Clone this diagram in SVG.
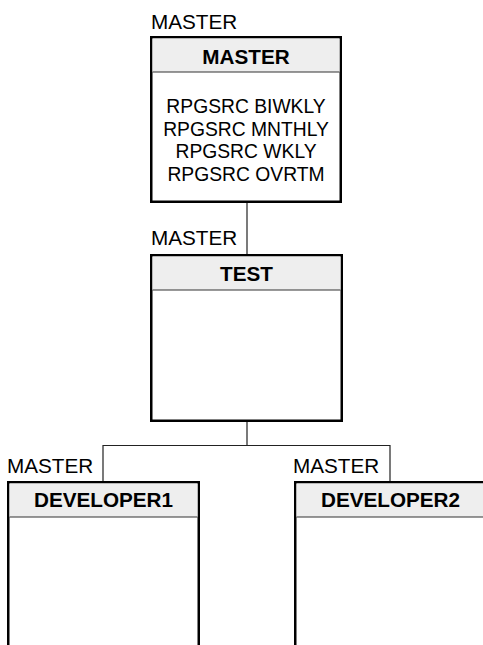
<svg xmlns="http://www.w3.org/2000/svg" width="483" height="645" viewBox="0 0 483 645">
<style>
.box{fill:#ffffff;stroke:#000000;stroke-width:2.5}
.hdr{fill:#eeeeee;stroke:none}
.sep{stroke:#333333;stroke-width:1}
.conn{fill:none;stroke:#222222;stroke-width:1.2}
.lbl{font-family:"Liberation Sans",Arial,sans-serif;font-size:20.7px;fill:#000}
.ttl{font-family:"Liberation Sans",Arial,sans-serif;font-size:20.7px;font-weight:bold;fill:#000;text-anchor:middle}
.body{font-family:"Liberation Sans",Arial,sans-serif;font-size:19.3px;fill:#000;text-anchor:middle}
</style>
<rect width="483" height="645" fill="#ffffff"/>
<g id="connectors">
<path class="conn" d="M247,203 V254"/>
<path class="conn" d="M247,422 V445.5 M103,481 V445.5 H390 V481"/>
</g>
<g id="node-master">
<text class="lbl" x="151" y="29">MASTER</text>
<rect class="box" x="151.25" y="37.25" width="189.5" height="164.5"/>
<rect class="hdr" x="152.5" y="38.5" width="187" height="33.5"/>
<line class="sep" x1="152.5" y1="72" x2="339.5" y2="72"/>
<text class="ttl" x="246" y="64">MASTER</text>
<text class="body" x="246" y="113">RPGSRC BIWKLY</text>
<text class="body" x="246" y="135.7">RPGSRC MNTHLY</text>
<text class="body" x="246" y="158.3">RPGSRC WKLY</text>
<text class="body" x="246" y="181">RPGSRC OVRTM</text>
</g>
<g id="node-test">
<text class="lbl" x="151" y="245">MASTER</text>
<rect class="box" x="151.25" y="255.25" width="190.5" height="165.5"/>
<rect class="hdr" x="152.5" y="256.5" width="188" height="33.5"/>
<line class="sep" x1="152.5" y1="290" x2="340.5" y2="290"/>
<text class="ttl" x="246.5" y="281">TEST</text>
</g>
<g id="node-developer1">
<text class="lbl" x="7" y="473">MASTER</text>
<rect class="box" x="8.25" y="482.25" width="190.5" height="200"/>
<rect class="hdr" x="9.5" y="483.5" width="188" height="33.5"/>
<line class="sep" x1="9.5" y1="517" x2="197.5" y2="517"/>
<text class="ttl" x="103.5" y="507">DEVELOPER1</text>
</g>
<g id="node-developer2">
<text class="lbl" x="293" y="473">MASTER</text>
<rect class="box" x="295.25" y="482.25" width="190.5" height="200"/>
<rect class="hdr" x="296.5" y="483.5" width="188" height="33.5"/>
<line class="sep" x1="296.5" y1="517" x2="484.5" y2="517"/>
<text class="ttl" x="390.5" y="507">DEVELOPER2</text>
</g>
</svg>
